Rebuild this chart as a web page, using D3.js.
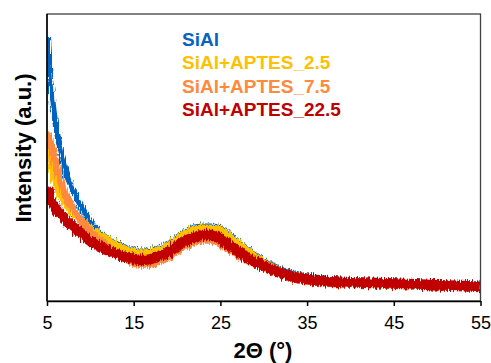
<!DOCTYPE html>
<html>
<head>
<meta charset="utf-8">
<script src="https://cdn.jsdelivr.net/npm/d3@7/dist/d3.min.js"></script>
<style>
body { margin: 0; background: #fff; }
</style>
</head>
<body>
<div id="chart"></div>
<script>
//data (intensity in arbitrary units)
var twoTheta = [5, 5.25, 5.5, 5.75, 6, 6.5, 7, 7.5, 8, 9, 10, 11, 12, 13, 14, 15, 16, 17, 18, 19, 20,
    21, 22, 23, 24, 25, 26, 27, 28, 29, 30, 31, 32, 33, 34, 35, 37, 39, 41, 43, 45, 47, 49, 51, 53, 55];

var siAl = [265, 231, 211, 191, 176, 153, 133, 121, 111, 94, 79, 69, 62, 57.5, 53.5, 50.5, 49.5, 50.5, 53.5, 57.5, 63.5,
    69.5, 73.5, 74.5, 74.5, 72.5, 66.5, 59.5, 52.5, 45.5, 40.5, 35.5, 31.5, 28.5, 26.5, 24.5, 22.5, 21.5, 20.5, 20, 19.5, 18.5, 18, 17.5, 17, 16.5];

var aptes25 = [156, 146, 136, 126, 118, 107, 99, 93, 88, 80, 73, 67, 61, 56, 52, 49, 48, 49, 52, 56, 62,
    68, 72, 73, 73, 71, 65, 58, 51, 44, 39, 34, 30, 27, 25, 23, 21, 20, 19, 18.5, 18, 17, 16.5, 16, 15.5, 15];

var aptes75 = [169, 163, 154, 146, 136, 123, 108, 99, 93, 80, 70, 61, 54, 48, 43, 38, 37, 37, 40, 44, 50,
    55, 59, 61, 61, 57, 52, 46, 41, 37, 33, 29, 26, 23, 21, 20, 18, 17, 16.5, 16, 15.5, 15, 14.5, 14, 13.5, 13];

var aptes225 = [113, 106, 101, 97, 93, 87, 83, 78, 74, 67, 60, 55, 51, 47, 44, 42, 41, 42, 45, 49, 55,
    60, 64, 66, 66, 62, 56, 50, 44, 39, 35, 31, 28, 25, 23, 22, 20, 19, 18.5, 18, 17.5, 17, 16, 15.5, 15, 14];

var seriesNames = ["SiAl", "SiAl+APTES_2.5", "SiAl+APTES_7.5", "SiAl+APTES_22.5"];
var seriesColors = ["#0563c1", "#ffc000", "#ff8a3d", "#c00000"];
var xTicks = [5, 15, 25, 35, 45, 55];

var width = 491;
var height = 363;
var margin = {top: 14, right: 10.5, bottom: 62, left: 47};
var innerW = width - margin.left - margin.right;
var innerH = height - margin.top - margin.bottom;

var svg = d3.select("#chart")
    .append("svg")
    .attr("width", width)
    .attr("height", height)
    .style("font-family", "'Liberation Sans', Arial, sans-serif");

// grainy look of the traces
var defs = svg.append("defs");
var filt = defs.append("filter")
    .attr("id", "grain")
    .attr("x", "-2%").attr("y", "-10%")
    .attr("width", "104%").attr("height", "120%");
filt.append("feTurbulence")
    .attr("type", "fractalNoise")
    .attr("baseFrequency", "1.1 0.1")
    .attr("numOctaves", 1)
    .attr("seed", 4)
    .attr("result", "t");
filt.append("feDisplacementMap")
    .attr("in", "SourceGraphic")
    .attr("in2", "t")
    .attr("scale", 8)
    .attr("xChannelSelector", "R")
    .attr("yChannelSelector", "G");

var g = svg.append("g")
    .attr("transform", "translate(" + margin.left + "," + margin.top + ")");

var x = d3.scaleLinear().domain([5, 55]).range([0, innerW]);
var y = d3.scaleLinear().domain([0, 287]).range([innerH, 0]);

var line = d3.line()
    .x(function(d) { return x(d[0]); })
    .y(function(d) { return y(d[1]); })
    .curve(d3.curveMonotoneX);

var allSeries = [siAl, aptes25, aptes75, aptes225];
var widths = [6, 7, 7.5, 10.5];

var clip = defs.append("clipPath").attr("id", "plotclip");
clip.append("rect").attr("x", 0).attr("y", 0).attr("width", innerW).attr("height", innerH);

var traces = g.append("g").attr("clip-path", "url(#plotclip)");

allSeries.forEach(function(vals, i) {
    traces.append("path")
        .datum(twoTheta.map(function(t, k) { return [t, vals[k]]; }))
        .attr("fill", "none")
        .attr("stroke", seriesColors[i])
        .attr("stroke-width", widths[i])
        .attr("stroke-linejoin", "round")
        .attr("filter", "url(#grain)")
        .attr("d", line);
});

// frame
g.append("rect")
    .attr("x", 0).attr("y", 0)
    .attr("width", innerW).attr("height", innerH)
    .attr("fill", "none")
    .attr("stroke", "#404040")
    .attr("stroke-width", 1.3);

// x axis
var xAxis = g.append("g")
    .attr("transform", "translate(0," + innerH + ")")
    .call(d3.axisBottom(x).tickValues(xTicks).tickSize(5).tickSizeOuter(0).tickFormat(d3.format("d")));
xAxis.select(".domain").attr("stroke", "#000").attr("stroke-width", 1.5);
xAxis.selectAll(".tick line").attr("stroke", "#000").attr("stroke-width", 1.5);
xAxis.selectAll("text")
    .attr("y", 15)
    .attr("dy", "0.71em")
    .style("font-size", "18px")
    .style("font-family", "'Liberation Sans', Arial, sans-serif")
    .attr("fill", "#000");

// left axis line
g.append("line")
    .attr("x1", 0).attr("x2", 0)
    .attr("y1", 0).attr("y2", innerH)
    .attr("stroke", "#000")
    .attr("stroke-width", 1.5);

// axis titles
svg.append("text")
    .attr("x", 263)
    .attr("y", 358)
    .attr("text-anchor", "middle")
    .style("font-size", "22px")
    .style("font-weight", "bold")
    .text("2\u0398 (\u00b0)");

svg.append("text")
    .attr("transform", "translate(31,148) rotate(-90)")
    .attr("text-anchor", "middle")
    .style("font-size", "22px")
    .style("font-weight", "bold")
    .text("Intensity (a.u.)");

// legend
var legend = svg.append("g").attr("transform", "translate(182,46)");
seriesNames.forEach(function(name, i) {
    legend.append("text")
        .attr("x", 0)
        .attr("y", i * 23.3)
        .attr("fill", seriesColors[i])
        .style("font-size", "19px")
        .style("font-weight", "bold")
        .text(name);
});
</script>
</body>
</html>
